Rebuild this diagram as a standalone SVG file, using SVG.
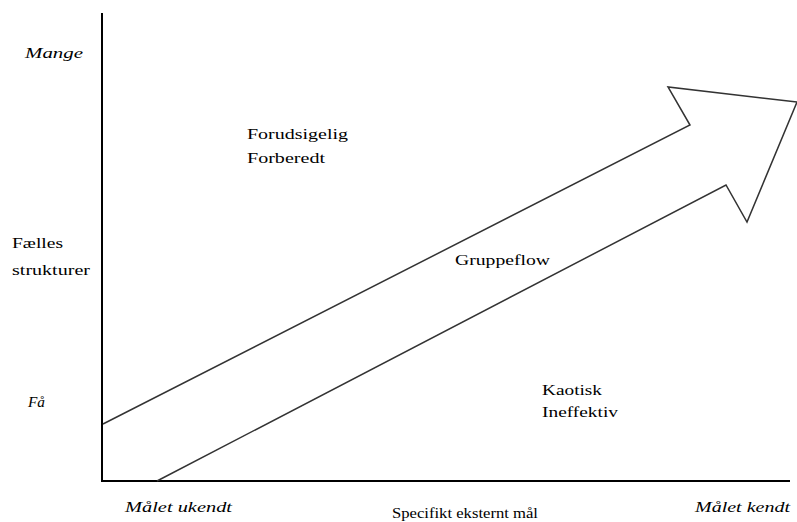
<svg xmlns="http://www.w3.org/2000/svg" width="797" height="522" viewBox="0 0 797 522">
<style>
.t{font-size:15px;fill:#000}
.i{font-style:italic}
.ax{stroke:#000;stroke-width:2;fill:none}
.ar{stroke:#333;stroke-width:1.5;fill:none;stroke-linejoin:miter}
</style>
<rect width="797" height="522" fill="#fff"/>
<g id="connectors">
<path class="ax" d="M102,13 V481 H790"/>
</g>
<g id="arrow">
<path class="ar" d="M103,424 L690,125 L668,87 L797,102 L747,222 L726,185 L157,481"/>
</g>
<g font-family="'Liberation Serif', 'DejaVu Serif', serif">
<g id="label-mange"><text class="t i" x="25" y="58" textLength="58" lengthAdjust="spacingAndGlyphs">Mange</text></g>
<g id="label-faelles"><text class="t" x="12" y="248" textLength="51" lengthAdjust="spacingAndGlyphs">Fælles</text><text class="t" x="12" y="275" textLength="78" lengthAdjust="spacingAndGlyphs">strukturer</text></g>
<g id="label-faa"><text class="t i" x="28" y="407" textLength="17" lengthAdjust="spacingAndGlyphs">Få</text></g>
<g id="label-forudsigelig"><text class="t" x="247" y="139" textLength="101" lengthAdjust="spacingAndGlyphs">Forudsigelig</text><text class="t" x="247" y="163" textLength="78" lengthAdjust="spacingAndGlyphs">Forberedt</text></g>
<g id="label-gruppeflow"><text class="t" x="455" y="265" textLength="95" lengthAdjust="spacingAndGlyphs">Gruppeflow</text></g>
<g id="label-kaotisk"><text class="t" x="542" y="395" textLength="60" lengthAdjust="spacingAndGlyphs">Kaotisk</text><text class="t" x="542" y="417" textLength="76" lengthAdjust="spacingAndGlyphs">Ineffektiv</text></g>
<g id="label-ukendt"><text class="t i" x="125" y="512" textLength="107" lengthAdjust="spacingAndGlyphs">Målet ukendt</text></g>
<g id="label-specifikt"><text class="t" x="392" y="518" textLength="146" lengthAdjust="spacingAndGlyphs">Specifikt eksternt mål</text></g>
<g id="label-kendt"><text class="t i" x="695" y="512" textLength="95" lengthAdjust="spacingAndGlyphs">Målet kendt</text></g>
</g>
</svg>
